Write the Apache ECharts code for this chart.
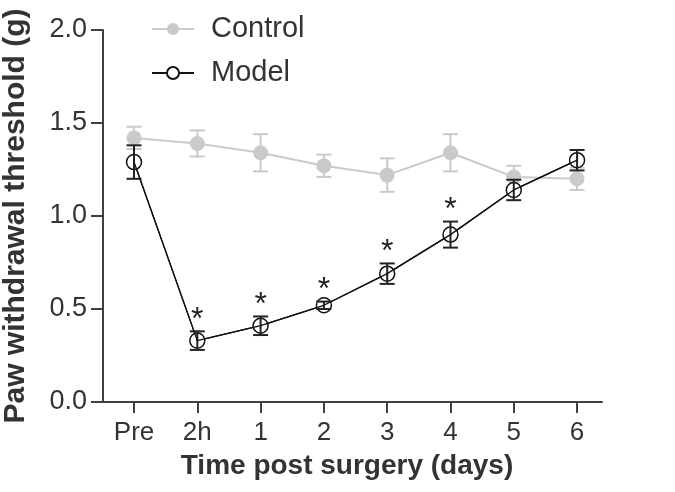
<!DOCTYPE html>
<html>
<head>
<meta charset="utf-8">
<script src="https://cdn.jsdelivr.net/npm/echarts@6/dist/echarts.min.js"></script>
<style>
html,body{margin:0;padding:0;background:#fff;}
#chart{width:675px;height:492px;}
</style>
</head>
<body>
<div id="chart"></div>
<script>
var categories = ['Pre', '2h', '1', '2', '3', '4', '5', '6'];
var controlMean = [1.42, 1.39, 1.34, 1.27, 1.22, 1.34, 1.21, 1.20];
var controlSem = [0.06, 0.07, 0.10, 0.06, 0.09, 0.10, 0.06, 0.06];
var modelMean = [1.29, 0.33, 0.41, 0.52, 0.69, 0.90, 1.14, 1.30];
var modelSem = [0.09, 0.05, 0.05, 0.02, 0.055, 0.07, 0.055, 0.055];
var significant = [false, true, true, true, true, true, false, false];
var yTicks = [0, 0.5, 1.0, 1.5, 2.0];

var FONT = '"Liberation Sans", Arial, sans-serif';
var TXT = '#333333';
var AX = '#404040';
var GREY = '#cacaca';

function pts(mean) { return mean.map(function (v, i) { return [i, v]; }); }
function errs(mean, sem) { return mean.map(function (v, i) { return [i, v - sem[i], v + sem[i]]; }); }
function errRender(color) {
  return function (params, api) {
    var x = api.value(0);
    var lo = api.coord([x, api.value(1)]);
    var hi = api.coord([x, api.value(2)]);
    var hw = 7.5;
    var st = { stroke: color, lineWidth: 2 };
    return {
      type: 'group',
      children: [
        { type: 'line', shape: { x1: lo[0], y1: lo[1], x2: hi[0], y2: hi[1] }, style: st },
        { type: 'line', shape: { x1: lo[0] - hw, y1: lo[1], x2: lo[0] + hw, y2: lo[1] }, style: st },
        { type: 'line', shape: { x1: hi[0] - hw, y1: hi[1], x2: hi[0] + hw, y2: hi[1] }, style: st }
      ]
    };
  };
}
var starData = [];
modelMean.forEach(function (v, i) { if (significant[i]) starData.push([i, v + modelSem[i]]); });

var chart = echarts.init(document.getElementById('chart'), null, { renderer: 'canvas' });
chart.setOption({
  animation: false,
  backgroundColor: '#ffffff',
  grid: { left: 92, right: 73, top: 30, bottom: 90, containLabel: false, outerBoundsMode: 'none' },
  legend: {
    data: ['Control', 'Model'],
    orient: 'vertical',
    left: 146,
    top: 7,
    itemWidth: 42,
    itemHeight: 15,
    itemGap: 10,
    textStyle: { fontFamily: FONT, fontSize: 29, color: TXT, padding: [0, 0, 0, 12], lineHeight: 34 }
  },
  xAxis: {
    type: 'value',
    min: -0.664,
    max: 7.394,
    splitLine: { show: false },
    axisLine: { show: true, onZero: false, lineStyle: { color: AX, width: 2 } },
    axisTick: { show: true, length: 11, lineStyle: { color: AX, width: 2 }, customValues: [0, 1, 2, 3, 4, 5, 6, 7] },
    axisLabel: {
      customValues: [0, 1, 2, 3, 4, 5, 6, 7],
      formatter: function (v) { return categories[Math.round(v)]; },
      fontFamily: FONT, fontSize: 26, color: TXT, margin: 18
    },
    name: 'Time post surgery (days)',
    nameLocation: 'middle',
    nameGap: 50,
    nameTextStyle: { fontFamily: FONT, fontSize: 28, fontWeight: 'bold', color: TXT }
  },
  yAxis: {
    type: 'value',
    min: 0,
    max: 2,
    interval: 0.5,
    offset: -11,
    splitLine: { show: false },
    axisLine: { show: true, onZero: false, lineStyle: { color: AX, width: 2 } },
    axisTick: { show: true, length: 12, lineStyle: { color: AX, width: 2 } },
    axisLabel: {
      formatter: function (v) { return v.toFixed(1); },
      fontFamily: FONT, fontSize: 27, color: TXT, margin: 16
    },
    name: 'Paw withdrawal threshold (g)',
    nameLocation: 'middle',
    nameRotate: 90,
    nameGap: 72,
    nameTextStyle: { fontFamily: FONT, fontSize: 30, fontWeight: 'bold', color: TXT }
  },
  series: [
    {
      name: 'ControlErr', type: 'custom', z: 1,
      renderItem: errRender(GREY), data: errs(controlMean, controlSem), silent: true
    },
    {
      name: 'Control', type: 'line', z: 2,
      data: pts(controlMean),
      symbol: 'circle', symbolSize: 15,
      itemStyle: { color: GREY, borderWidth: 0 },
      lineStyle: { color: GREY, width: 2 }
    },
    {
      name: 'Model', type: 'line', z: 3,
      data: pts(modelMean),
      symbol: 'circle', symbolSize: 15,
      itemStyle: { color: '#ffffff', borderColor: '#111111', borderWidth: 1.5 },
      lineStyle: { color: '#111111', width: 1.3 }
    },
    {
      name: 'ModelErr', type: 'custom', z: 4,
      renderItem: errRender('#222222'), data: errs(modelMean, modelSem), silent: true
    },
    {
      name: 'ModelLine', type: 'line', z: 5,
      data: pts(modelMean),
      symbol: 'none',
      lineStyle: { color: '#111111', width: 1.3 }, silent: true
    },
    {
      name: 'Stars', type: 'custom', z: 6, silent: true,
      data: starData,
      renderItem: function (params, api) {
        var p = api.coord([api.value(0), api.value(1)]);
        return {
          type: 'text',
          style: { text: '*', x: p[0], y: p[1] + 5, textAlign: 'center', textVerticalAlign: 'bottom',
                   fontFamily: FONT, fontSize: 32, fill: '#222222' }
        };
      }
    }
  ]
});
</script>
</body>
</html>
